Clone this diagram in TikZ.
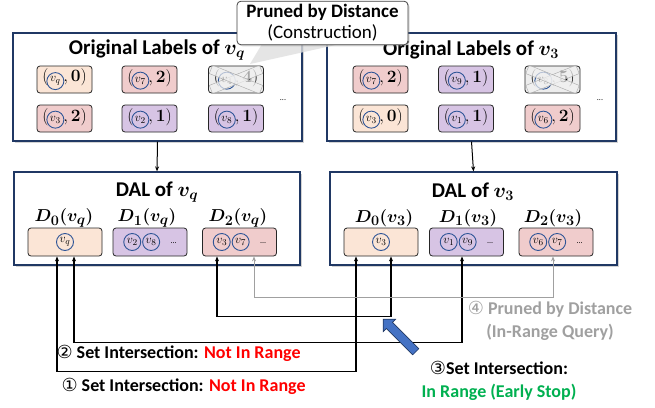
\documentclass[tikz,border=0pt]{standalone}
\usepackage{fontspec}
\usepackage{amsmath,bm}
\setmainfont{Carlito}
\newfontfamily\circfont{DejaVu Sans}
\usetikzlibrary{shapes.arrows,shadows,arrows.meta}
\definecolor{navy}{RGB}{32,56,100}
\definecolor{circblue}{RGB}{47,85,151}
\definecolor{dzero}{RGB}{251,229,214}
\definecolor{done}{RGB}{215,196,228}
\definecolor{dtwo}{RGB}{240,204,204}
\definecolor{dcut}{RGB}{237,237,237}
\definecolor{hitgreen}{RGB}{0,176,80}
\definecolor{prunegray}{RGB}{160,160,160}
\definecolor{bluearrow}{RGB}{68,114,196}
\tikzset{
  panel/.style={draw=navy, line width=1.2pt, fill=white, inner sep=0pt,
    drop shadow={shadow xshift=2pt, shadow yshift=-2pt, opacity=.35}},
  cell/.style={draw=black!85, rounded corners=3pt, line width=.8pt, minimum width=55pt,
    minimum height=27pt, inner sep=0pt, font=\fontsize{19}{20}\selectfont},
  dcell/.style={cell, minimum width=74pt, minimum height=28pt},
  vcirc/.style={circle, draw=circblue, line width=.9pt, inner sep=0pt, minimum size=17pt,
    font=\fontsize{13}{14}\selectfont},
  xbar/.style={draw=gray!70, fill=white!88!gray, fill opacity=.7, minimum width=54pt,
    minimum height=9pt, inner sep=0pt},
  link/.style={{Stealth[length=5pt,width=4pt]}-{Stealth[length=5pt,width=4pt]}, line width=1.1pt},
  title/.style={font=\fontsize{21}{24}\selectfont\bfseries},
  dlabel/.style={font=\fontsize{19}{20}\selectfont},
  note/.style={font=\fontsize{18}{23}\selectfont\bfseries, align=center}
}
\newcommand{\vc}[1]{\tikz[baseline=(vc.base)]\node[vcirc](vc){$#1$};}
\newcommand{\circd}[1]{{\circfont\mdseries #1}}
\newcommand{\more}{{\fontsize{8}{8}\selectfont ...}}

\begin{document}
\begin{tikzpicture}[x=1pt, y=-1pt]
  \useasboundingbox (0,0) rectangle (655,407);

  % panels
  \node[panel, minimum width=289pt, minimum height=108pt] (olq) at (157.5,87) {};
  \node[panel, minimum width=289pt, minimum height=108pt] (ol3) at (471.5,87) {};
  \node[panel, minimum width=286pt, minimum height=93pt] (dalq) at (157,218.5) {};
  \node[panel, minimum width=287pt, minimum height=93pt] (dal3) at (473.5,218.5) {};
  \draw[-{Stealth[length=5pt,width=4pt]}, line width=1pt] (olq.south) -- (dalq.north);
  \draw[-{Stealth[length=5pt,width=4pt]}, line width=1pt] (ol3.south) -- (dal3.north);

  \node[title] (tq) at (157,50) {Original Labels of $\bm{v_q}$};
  \node[title] (t3) at (471,50) {Original Labels of $\bm{v_3}$};
  \node[title] (dq) at (157,192) {DAL of $\bm{v_q}$};
  \node[title] (d3) at (473,192) {DAL of $\bm{v_3}$};

  % original labels
  \foreach \nm/\x/\y/\clr/\v/\d in {
      q1/64.5/79.5/dzero/v_q/0, q2/149.5/79.5/dtwo/v_7/2, q3/236/79.5/dcut/v_4/4,
      q4/64.5/118.5/dtwo/v_3/2, q5/149.5/118.5/done/v_2/1, q6/236/118.5/done/v_8/1,
      r1/380.5/79.5/dtwo/v_7/2, r2/466/79.5/done/v_9/1, r3/552.5/79.5/dcut/v_8/5,
      r4/380.5/118.5/dzero/v_3/0, r5/466/118.5/done/v_1/1, r6/552.5/118.5/dtwo/v_6/2}
    {\node[cell, fill=\clr] (\nm) at (\x,\y) {$(\kern-2pt\vc{\v}\kern-1pt,\boldsymbol{\d})$};}
  \foreach \nm in {q3,r3}
    {\node[xbar, rotate=22] at (\nm) {};
     \node[xbar, rotate=-22] at (\nm) {};}
  \node (mq) at (283,100) {\more};
  \node (m3) at (600,100) {\more};

  % DAL
  \node[dlabel] (lq0) at (64,218) {$\bm{D_0(v_q)}$};
  \node[dlabel] (lq1) at (147,218) {$\bm{D_1(v_q)}$};
  \node[dlabel] (lq2) at (238,218) {$\bm{D_2(v_q)}$};
  \node[dlabel] (l30) at (384,218) {$\bm{D_0(v_3)}$};
  \node[dlabel] (l31) at (468,218) {$\bm{D_1(v_3)}$};
  \node[dlabel] (l32) at (553,218) {$\bm{D_2(v_3)}$};
  \node[dcell, fill=dzero] (dq0) at (65,242) {\vc{v_q}};
  \node[dcell, fill=done] (dq1) at (150,242) {\vc{v_2}\kern1pt\vc{v_8}\;\;\more};
  \node[dcell, fill=dtwo] (dq2) at (239.5,242) {\vc{v_3}\kern1pt\vc{v_7}\;\;\more};
  \node[dcell, fill=dzero] (d30) at (381,242) {\vc{v_3}};
  \node[dcell, fill=done] (d31) at (466.5,242) {\vc{v_1}\kern1pt\vc{v_9}\;\;\more};
  \node[dcell, fill=dtwo] (d32) at (556,242) {\vc{v_6}\kern1pt\vc{v_7}\;\;\more};

  % set intersections
  \draw[link] ([xshift=-8pt]dq0.south) -- ++(0,115) -| ([xshift=-25pt]d30.south);
  \draw[link] ([xshift=9pt]dq0.south) -- ++(0,86) -| ([xshift=-4.5pt]d31.south);
  \draw[link] ([xshift=-22.5pt]dq2.south) -- ++(0,60) -| ([xshift=10pt]d30.south);
  \draw[link, draw=prunegray, line width=1pt] ([xshift=14.5pt]dq2.south) -- ++(0,41) -| ([xshift=-3pt]d32.south);

  \node[single arrow, fill=bluearrow, draw=navy, line width=.6pt, rotate=135, inner sep=4pt,
    minimum height=46pt, single arrow head extend=4.5pt] (hit) at (401,337) {};

  \node[note, anchor=west] (n2) at (53,353) {\circd{②} Set Intersection: \textcolor{red}{Not In Range}};
  \node[note, anchor=west] (n1) at (58,386) {\circd{①} Set Intersection: \textcolor{red}{Not In Range}};
  \node[note] (n3) at (499,381) {\circd{③}Set Intersection:\\\textcolor{hitgreen}{In Range (Early Stop)}};
  \node[note, text=prunegray] (n4) at (550,321) {\circd{④} Pruned by Distance\\(In-Range Query)};

  % callout
  \fill[gray!25, opacity=.8] (262,44) -- (340,44) -- (250,64) -- cycle;
  \node[draw=black!75, fill=white, rounded corners=4pt, line width=.8pt, minimum width=171pt,
    minimum height=42pt, align=center, font=\fontsize{19}{21}\selectfont,
    drop shadow={shadow xshift=1.5pt, shadow yshift=-1.5pt, opacity=.3}] (prune) at (322.5,23)
    {\textbf{Pruned by Distance}\\(Construction)};
\end{tikzpicture}
\end{document}
